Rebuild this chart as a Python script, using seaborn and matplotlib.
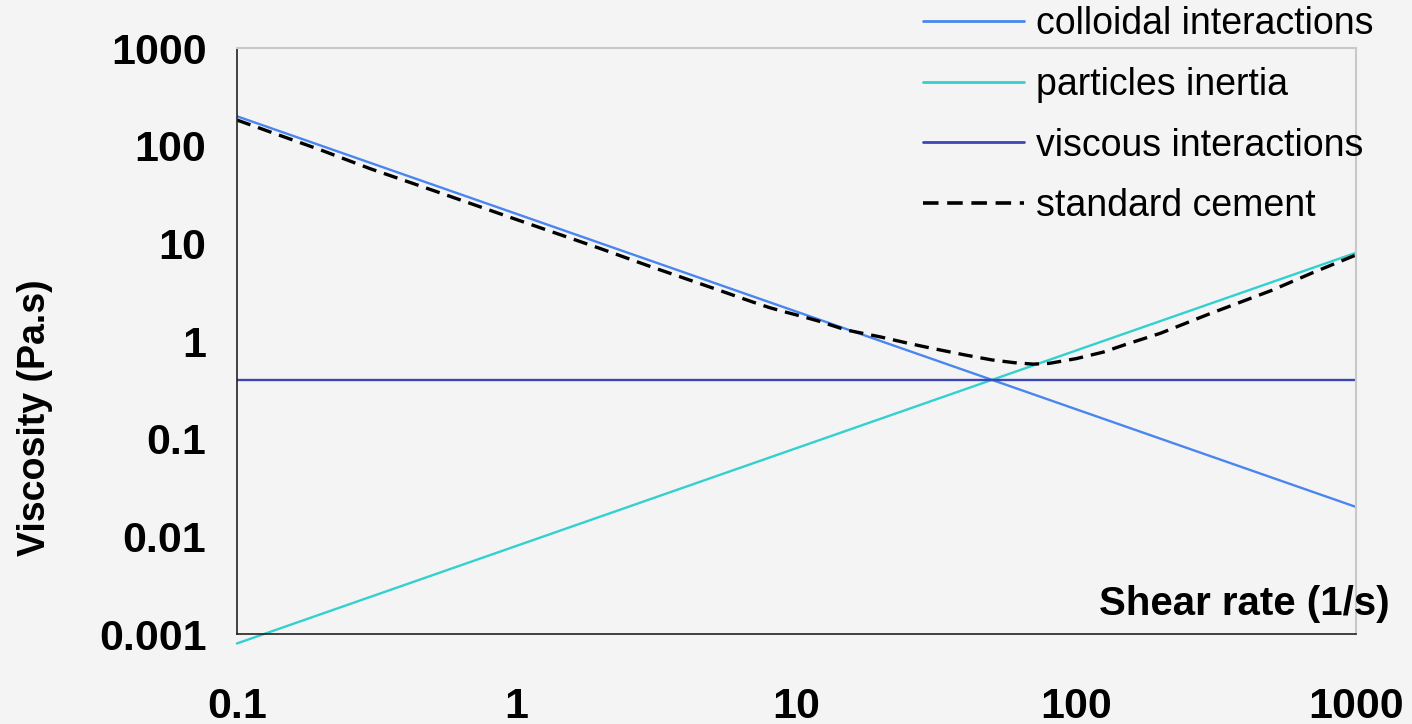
import matplotlib
matplotlib.use('Agg')
import matplotlib.pyplot as plt
import seaborn as sns
from matplotlib.ticker import FixedLocator, FixedFormatter, NullLocator

# ── Data ───────────────────────────────────────────────────
colloid_x = [0.1, 1, 10, 20, 50, 100, 1000]
colloid_y = [200, 20, 2, 1, 0.4, 0.2, 0.02]

inertia_x = [0.1, 1, 10, 50, 100, 1000]
inertia_y = [0.0008, 0.008, 0.08, 0.4, 0.8, 8]

viscous_x = [0.1, 1000]
viscous_y = [0.4, 0.4]

cement_x = [0.1, 0.2, 0.3, 0.5, 0.7, 1, 2, 3, 5, 7, 8, 9, 10, 12, 15, 20, 25,
            30, 40, 50, 60, 70, 80, 100, 125, 150, 200, 300, 500, 700, 1000]
cement_y = [183, 90, 58, 35, 25, 17.5, 8.8, 5.8, 3.5, 2.5, 2.2, 2.0, 1.85, 1.6,
            1.3, 1.1, 0.95, 0.85, 0.72, 0.64, 0.6, 0.58, 0.59, 0.66, 0.77, 0.92,
            1.2, 1.9, 3.3, 5.0, 7.6]

x_ticks = [0.1, 1, 10, 100, 1000]
x_labels = ['0.1', '1', '10', '100', '1000']
y_ticks = [0.001, 0.01, 0.1, 1, 10, 100, 1000]
y_labels = ['0.001', '0.01', '0.1', '1', '10', '100', '1000']

sns.set_style('white')
plt.rcParams['font.family'] = ['Liberation Sans', 'DejaVu Sans']
plt.rcParams['text.color'] = 'black'
plt.rcParams['axes.labelcolor'] = 'black'
plt.rcParams['xtick.color'] = 'black'
plt.rcParams['ytick.color'] = 'black'

bg = '#f4f4f4'
fig = plt.figure(figsize=(14.12, 7.24), dpi=100, facecolor=bg)
ax = fig.add_axes([0.1678, 0.1243, 0.7925, 0.8094])
ax.set_facecolor(bg)

sns.lineplot(x=colloid_x, y=colloid_y, ax=ax, color='#4a86f0', lw=1.7,
             label='colloidal interactions')
sns.lineplot(x=inertia_x, y=inertia_y, ax=ax, color='#33d0d0', lw=1.7,
             label='particles inertia', clip_on=False)
sns.lineplot(x=viscous_x, y=viscous_y, ax=ax, color='#3c46b4', lw=1.7,
             label='viscous interactions')
sns.lineplot(x=cement_x, y=cement_y, ax=ax, color='black', lw=2.4,
             dashes=(4.3, 2.4), label='standard cement')

ax.set_xscale('log')
ax.set_yscale('log')
ax.set_xlim(0.1, 1000)
ax.set_ylim(0.001, 1000)

ax.xaxis.set_major_locator(FixedLocator(x_ticks))
ax.xaxis.set_major_formatter(FixedFormatter(x_labels))
ax.yaxis.set_major_locator(FixedLocator(y_ticks))
ax.yaxis.set_major_formatter(FixedFormatter(y_labels))
ax.xaxis.set_minor_locator(NullLocator())
ax.yaxis.set_minor_locator(NullLocator())

ax.tick_params(axis='x', which='major', direction='out', length=8, width=1,
               color='#222222', pad=30, labelsize=31)
ax.tick_params(axis='y', which='major', direction='out', length=10, width=1,
               color='#222222', pad=12, labelsize=31)
for lab in ax.get_xticklabels() + ax.get_yticklabels():
    lab.set_fontweight('bold')

for side in ['left', 'bottom']:
    ax.spines[side].set_color('#222222')
    ax.spines[side].set_linewidth(1.2)
for side in ['top', 'right']:
    ax.spines[side].set_color('#c8c8c8')
    ax.spines[side].set_linewidth(1.5)

ax.set_xlabel('')
ax.set_ylabel('')
fig.text(35 / 1412, (724 - 418) / 724, 'Viscosity (Pa.s)', fontsize=27,
         fontweight='bold', rotation=90, ha='center', va='center')
fig.text(1390 / 1412, (724 - 604) / 724, 'Shear rate (1/s)', fontsize=29,
         fontweight='bold', ha='right', va='center')

leg = ax.legend(loc='upper left', bbox_to_anchor=(923 / 1412, 1 - 6 / 724),
                bbox_transform=fig.transFigure, frameon=False, fontsize=27,
                handlelength=2.7, handletextpad=0.3, labelspacing=0.66,
                borderaxespad=0, borderpad=0)
for h in leg.get_lines():
    h.set_linewidth(2.0)
leg.get_lines()[3].set_linewidth(2.6)

plt.savefig('out.png', dpi=100, facecolor=bg)
plt.close()
